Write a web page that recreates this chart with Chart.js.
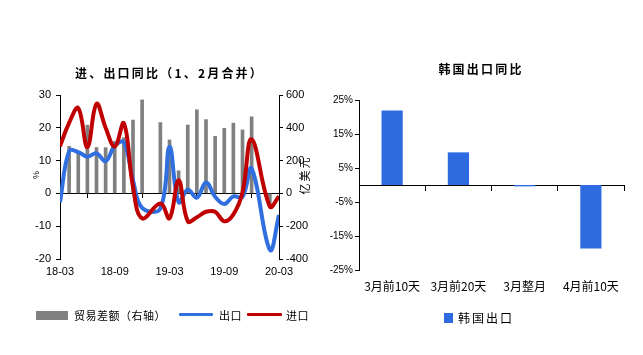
<!DOCTYPE html>
<html>
<head>
<meta charset="utf-8">
<script src="https://cdn.jsdelivr.net/npm/chart.js@4.4.1/dist/chart.umd.min.js"></script>
<style>
  html, body { margin: 0; padding: 0; background: #fff; }
  body { width: 643px; height: 355px; position: relative; overflow: hidden; font-family: "Noto Sans CJK SC", sans-serif; color: #000; }
  .box { position: absolute; top: 0; height: 355px; }
  .title { position: absolute; text-align: center; font-weight: bold; font-size: 12px; letter-spacing: 2.2px; line-height: 16px; white-space: nowrap; }
  .leg { position: absolute; white-space: nowrap; line-height: 14px; }
  .sw { position: absolute; }
</style>
</head>
<body>
<div class="box" style="left:0;width:320px;"><canvas id="c1" width="320" height="355"></canvas></div>
<div class="box" style="left:320px;width:323px;"><canvas id="c2" width="323" height="355"></canvas></div>

<div class="title" style="left:0;width:339px;top:65px;">进、出口同比（1、2月合并）</div>
<div class="title" style="left:380px;width:202px;top:61px;">韩国出口同比</div>

<div class="sw" style="left:36px;top:311px;width:32px;height:9px;background:#808080;"></div>
<div class="leg" style="left:74px;top:308px;font-size:11px;letter-spacing:0.5px;">贸易差额（右轴）</div>
<div class="sw" style="left:179px;top:313px;width:34px;height:3px;background:#2f6fe0;border-radius:1px;"></div>
<div class="leg" style="left:219px;top:308px;font-size:11px;letter-spacing:0.5px;">出口</div>
<div class="sw" style="left:247px;top:313px;width:35px;height:3px;background:#c00000;border-radius:1px;"></div>
<div class="leg" style="left:286px;top:308px;font-size:11px;letter-spacing:0.5px;">进口</div>

<div class="sw" style="left:444px;top:313px;width:9px;height:10px;background:#2e6be0;"></div>
<div class="leg" style="left:458px;top:311px;font-size:12px;letter-spacing:2px;">韩国出口</div>

<script>
// ---------- data: left chart (China trade, Jan & Feb merged) ----------
const monthLabels = ['18-03','18-04','18-05','18-06','18-07','18-08','18-09','18-10','18-11','18-12',
                     '19-02','19-03','19-04','19-05','19-06','19-07','19-08','19-09','19-10','19-11','19-12',
                     '20-02','20-03'];
const exportYoY = [-2.7, 12.9, 12.6, 11.2, 12.2, 9.8, 14.5, 15.6, 4.0, -4.4,
                   -4.6, 14.2, -2.7, 1.1, -1.3, 3.3, -1.0, -3.2, -0.9, -1.1, 7.6,
                   -17.2, -6.6];
const importYoY = [14.4, 21.5, 26.0, 14.1, 27.3, 20.0, 14.3, 21.4, 2.0, -7.6,
                   -3.1, -7.6, 4.0, -8.5, -7.3, -5.6, -5.6, -8.5, -6.4, 0.3, 16.5,
                   -4.0, -0.9];
const tradeBalance = [-50, 287, 249, 416, 280, 279, 317, 340, 447, 570,
                      432, 326, 138, 417, 510, 450, 348, 397, 428, 387, 467,
                      -71, null];
const leftTickLabels = ['18-03','18-09','19-03','19-09','20-03'];

// ---------- data: right chart (Korea exports YoY) ----------
const koreaCategories = ['3月前10天','3月前20天','3月整月','4月前10天'];
const koreaExportYoY = [21.9, 9.6, -0.4, -18.7];

// month label -> month index from 18-03
function monthIndex(lbl) {
  const [yy, mm] = lbl.split('-').map(Number);
  return (yy - 18) * 12 + (mm - 3);
}
const toPoints = arr => monthLabels.map((m, i) => ({ x: monthIndex(m), y: arr[i] }));

const tickFont = { family: '"Liberation Sans", Arial, sans-serif', size: 11 };
const cjkFont = { family: '"Noto Sans CJK SC", sans-serif', size: 12 };

const leftAxisTitles = {
  id: 'leftAxisTitles',
  afterDraw(chart) {
    const ctx = chart.ctx, ca = chart.chartArea;
    ctx.save();
    ctx.fillStyle = '#000';
    ctx.textAlign = 'center';
    ctx.textBaseline = 'middle';
    ctx.font = '9px "Liberation Sans", sans-serif';
    ctx.translate(ca.left - 23, ca.top + 80);
    ctx.rotate(-Math.PI / 2);
    ctx.fillText('%', 0, 0);
    ctx.restore();
    ctx.save();
    ctx.fillStyle = '#000';
    ctx.textAlign = 'center';
    ctx.textBaseline = 'middle';
    ctx.font = '11px "Noto Sans CJK SC", sans-serif';
    try { ctx.letterSpacing = '2px'; } catch (e) {}
    ctx.translate(ca.right + 26, ca.top + 80);
    ctx.rotate(-Math.PI / 2);
    ctx.fillText('亿美元', 0, 0);
    ctx.restore();
  }
};

new Chart(document.getElementById('c1'), {
  type: 'bar',
  data: {
    datasets: [
      { type: 'line', label: '进口', data: toPoints(importYoY), borderColor: '#c00000', backgroundColor: '#c00000',
        borderWidth: 4, pointRadius: 0, tension: 0.4, xAxisID: 'x', yAxisID: 'y', order: 1 },
      { type: 'line', label: '出口', data: toPoints(exportYoY), borderColor: '#2f6fe0', backgroundColor: '#2f6fe0',
        borderWidth: 4, pointRadius: 0, tension: 0.4, xAxisID: 'x', yAxisID: 'y', order: 2 },
      { type: 'bar', label: '贸易差额（右轴）', data: toPoints(tradeBalance), backgroundColor: '#808080',
        barThickness: 3, xAxisID: 'x', yAxisID: 'y1', order: 3 }
    ]
  },
  options: {
    responsive: false,
    animation: false,
    layout: { padding: { top: 95, left: 0, right: 0, bottom: 0 } },
    plugins: { legend: { display: false }, title: { display: false }, tooltip: { enabled: false } },
    scales: {
      x: {
        type: 'linear', min: 0, max: 24, offset: false, position: { y: 0 },
        grid: { drawOnChartArea: false, drawTicks: true, tickLength: 4, color: '#000' },
        border: { color: '#000', width: 1 },
        ticks: { display: false, stepSize: 6 }
      },
      x2: {
        type: 'linear', min: 0, max: 24, offset: false, position: 'bottom',
        grid: { display: false, drawTicks: false },
        border: { display: false },
        ticks: { stepSize: 6, color: '#000', font: tickFont, padding: 6, maxRotation: 0,
                 callback: v => leftTickLabels[v / 6] },
        afterFit: s => { s.height = 96; }
      },
      y: {
        position: 'left', min: -20, max: 30,
        grid: { drawOnChartArea: false, drawTicks: true, tickLength: 4, color: '#000' },
        border: { color: '#000', width: 1 },
        ticks: { stepSize: 10, color: '#000', font: tickFont, padding: 5 },
        afterFit: s => { s.width = 60; }
      },
      y1: {
        position: 'right', min: -400, max: 600,
        grid: { drawOnChartArea: false, drawTicks: true, tickLength: 4, color: '#000' },
        border: { color: '#000', width: 1 },
        ticks: { stepSize: 200, color: '#000', font: tickFont, padding: 3 },
        afterFit: s => { s.width = 41; }
      }
    }
  },
  plugins: [leftAxisTitles]
});

new Chart(document.getElementById('c2'), {
  type: 'bar',
  data: {
    labels: koreaCategories,
    datasets: [
      { label: '韩国出口', data: koreaExportYoY, backgroundColor: '#2e6be0',
        barPercentage: 0.32, categoryPercentage: 1, xAxisID: 'x', yAxisID: 'y' }
    ]
  },
  options: {
    responsive: false,
    animation: false,
    layout: { padding: { top: 100, left: 0, right: 19, bottom: 0 } },
    plugins: { legend: { display: false }, title: { display: false }, tooltip: { enabled: false } },
    scales: {
      x: {
        type: 'category', offset: true, position: { y: 0 },
        grid: { offset: true, drawOnChartArea: false, drawTicks: true, tickLength: 5, color: '#000' },
        border: { color: '#000', width: 1 },
        ticks: { display: false }
      },
      x2: {
        type: 'category', labels: koreaCategories, offset: true, position: 'bottom',
        grid: { display: false, drawTicks: false },
        border: { display: false },
        ticks: { color: '#000', font: cjkFont, padding: 9, maxRotation: 0, autoSkip: false },
        afterFit: s => { s.height = 85; }
      },
      y: {
        position: 'left', min: -25, max: 25,
        grid: { drawOnChartArea: false, drawTicks: true, tickLength: 4, color: '#000' },
        border: { color: '#000', width: 1 },
        ticks: { stepSize: 10, color: '#000', font: { family: '"Liberation Sans", Arial, sans-serif', size: 10 },
                 padding: 2, callback: v => v + '%' },
        afterFit: s => { s.width = 39; }
      }
    }
  }
});
</script>
</body>
</html>
